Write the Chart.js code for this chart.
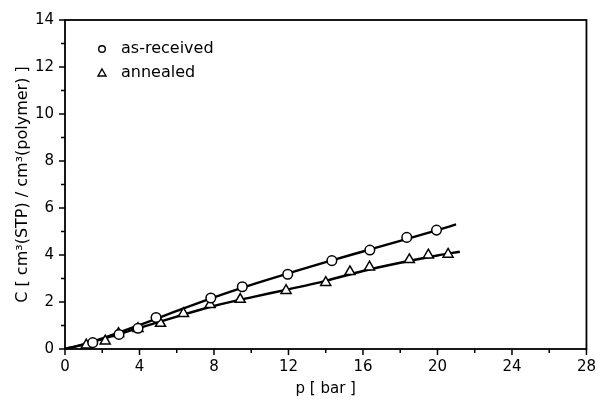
<!DOCTYPE html>
<html>
<head>
<meta charset="utf-8">
<script src="https://cdn.jsdelivr.net/npm/chart.js@4.4.1/dist/chart.umd.min.js"></script>
<style>
  html, body { margin: 0; padding: 0; background: #fff; }
  #wrap { width: 605px; height: 403px; }
</style>
</head>
<body>
<div id="wrap"><canvas id="myChart" width="605" height="403"></canvas></div>
<script>
// as-received (circles)
const pRecv = [1.49, 2.9, 3.92, 4.89, 7.83, 9.52, 11.96, 14.33, 16.37, 18.35, 19.95];
const cRecv = [0.27, 0.62, 0.88, 1.34, 2.17, 2.65, 3.18, 3.76, 4.21, 4.75, 5.06];
// annealed (triangles)
const pAnn = [1.14, 2.16, 2.87, 3.92, 5.13, 6.36, 7.79, 9.41, 11.87, 14.0, 15.3, 16.35, 18.49, 19.51, 20.57];
const cAnn = [0.17, 0.34, 0.66, 0.87, 1.09, 1.51, 1.89, 2.11, 2.49, 2.83, 3.29, 3.49, 3.8, 4.0, 4.03];
// fitted curves
const fitRecvP = [0, 1, 2, 4, 6, 8, 10, 12, 14, 16, 18, 20, 21];
const fitRecvC = [0, 0.2, 0.45, 1.02, 1.62, 2.2, 2.73, 3.22, 3.7, 4.15, 4.6, 5.06, 5.3];
const fitAnnP = [0, 1, 2, 4, 6, 8, 10, 12, 14, 16, 18, 20, 21.2];
const fitAnnC = [0, 0.2, 0.42, 0.9, 1.38, 1.83, 2.2, 2.54, 2.9, 3.32, 3.67, 3.98, 4.14];
// axis ticks
const xMajor = [0, 4, 8, 12, 16, 20, 24, 28];
const xMinor = [2, 6, 10, 14, 18, 22, 26];
const yMajor = [0, 2, 4, 6, 8, 10, 12, 14];
const yMinor = [1, 3, 5, 7, 9, 11, 13];
const legendNames = ["as-received", "annealed"];

const FONT = "'DejaVu Sans', sans-serif";
const toXY = (xs, ys) => xs.map((x, i) => ({ x: x, y: ys[i] }));

// frame, tick marks and in-plot legend
const framePlugin = {
  id: "frame",
  afterDraw(chart) {
    const { ctx, chartArea: a, scales } = chart;
    ctx.save();
    ctx.strokeStyle = "#000";
    ctx.lineWidth = 1.8;
    ctx.strokeRect(a.left, a.top, a.right - a.left, a.bottom - a.top);
    ctx.lineWidth = 1.5;
    ctx.beginPath();
    xMajor.forEach((v) => {
      const x = scales.x.getPixelForValue(v);
      ctx.moveTo(x, a.bottom); ctx.lineTo(x, a.bottom + 6);
    });
    xMinor.forEach((v) => {
      const x = scales.x.getPixelForValue(v);
      ctx.moveTo(x, a.bottom); ctx.lineTo(x, a.bottom + 4);
    });
    yMajor.forEach((v) => {
      const y = scales.y.getPixelForValue(v);
      ctx.moveTo(a.left, y); ctx.lineTo(a.left - 6, y);
    });
    yMinor.forEach((v) => {
      const y = scales.y.getPixelForValue(v);
      ctx.moveTo(a.left, y); ctx.lineTo(a.left - 4, y);
    });
    ctx.stroke();

    // legend
    ctx.font = "16px " + FONT;
    ctx.textBaseline = "middle";
    ctx.fillStyle = "#000";
    const lx = a.left + 37, ly = a.top + 29;
    ctx.lineWidth = 1.4;
    ctx.beginPath();
    ctx.arc(lx, ly, 3.3, 0, Math.PI * 2);
    ctx.stroke();
    ctx.beginPath();
    ctx.moveTo(lx, ly + 24 - 4);
    ctx.lineTo(lx + 4, ly + 24 + 3);
    ctx.lineTo(lx - 4, ly + 24 + 3);
    ctx.closePath();
    ctx.stroke();
    ctx.fillText(legendNames[0], lx + 19, ly);
    ctx.fillText(legendNames[1], lx + 19, ly + 24);
    ctx.restore();
  },
};

new Chart(document.getElementById("myChart"), {
  type: "scatter",
  data: {
    datasets: [
      {
        label: legendNames[0],
        data: toXY(pRecv, cRecv),
        pointStyle: "circle",
        pointRadius: 4.8,
        pointBackgroundColor: "#fff",
        pointBorderColor: "#000",
        pointBorderWidth: 1.5,
        order: 1,
      },
      {
        label: legendNames[1],
        data: toXY(pAnn, cAnn),
        pointStyle: "triangle",
        pointRadius: 5.8,
        pointBackgroundColor: "#fff",
        pointBorderColor: "#000",
        pointBorderWidth: 1.5,
        order: 1,
      },
      {
        label: "fit as-received",
        data: toXY(fitRecvP, fitRecvC),
        showLine: true,
        borderColor: "#000",
        borderWidth: 2.4,
        pointRadius: 0,
        cubicInterpolationMode: "monotone",
        order: 2,
      },
      {
        label: "fit annealed",
        data: toXY(fitAnnP, fitAnnC),
        showLine: true,
        borderColor: "#000",
        borderWidth: 2.4,
        pointRadius: 0,
        cubicInterpolationMode: "monotone",
        order: 2,
      },
    ],
  },
  options: {
    responsive: false,
    animation: false,
    layout: { padding: { top: 19, right: 9, left: 0, bottom: 0 } },
    scales: {
      x: {
        type: "linear",
        min: 0,
        max: 28,
        afterFit: (s) => { s.height = 54; },
        grid: { display: false, drawTicks: false },
        border: { display: false },
        ticks: {
          stepSize: 4,
          padding: 9,
          color: "#000",
          maxRotation: 0,
          font: { family: FONT, size: 15 },
        },
        title: {
          display: true,
          text: "p [ bar ]",
          color: "#000",
          padding: { top: 0, bottom: 5 },
          font: { family: FONT, size: 15 },
        },
      },
      y: {
        type: "linear",
        min: 0,
        max: 14,
        afterFit: (s) => { s.width = 65; },
        grid: { display: false, drawTicks: false },
        border: { display: false },
        ticks: {
          stepSize: 2,
          padding: 11,
          color: "#000",
          font: { family: FONT, size: 15 },
        },
        title: {
          display: true,
          text: "C [ cm³(STP) / cm³(polymer) ]",
          color: "#000",
          padding: { top: 13, bottom: 0 },
          font: { family: FONT, size: 16 },
        },
      },
    },
    plugins: {
      legend: { display: false },
      tooltip: { enabled: false },
    },
  },
  plugins: [framePlugin],
});
</script>
</body>
</html>
